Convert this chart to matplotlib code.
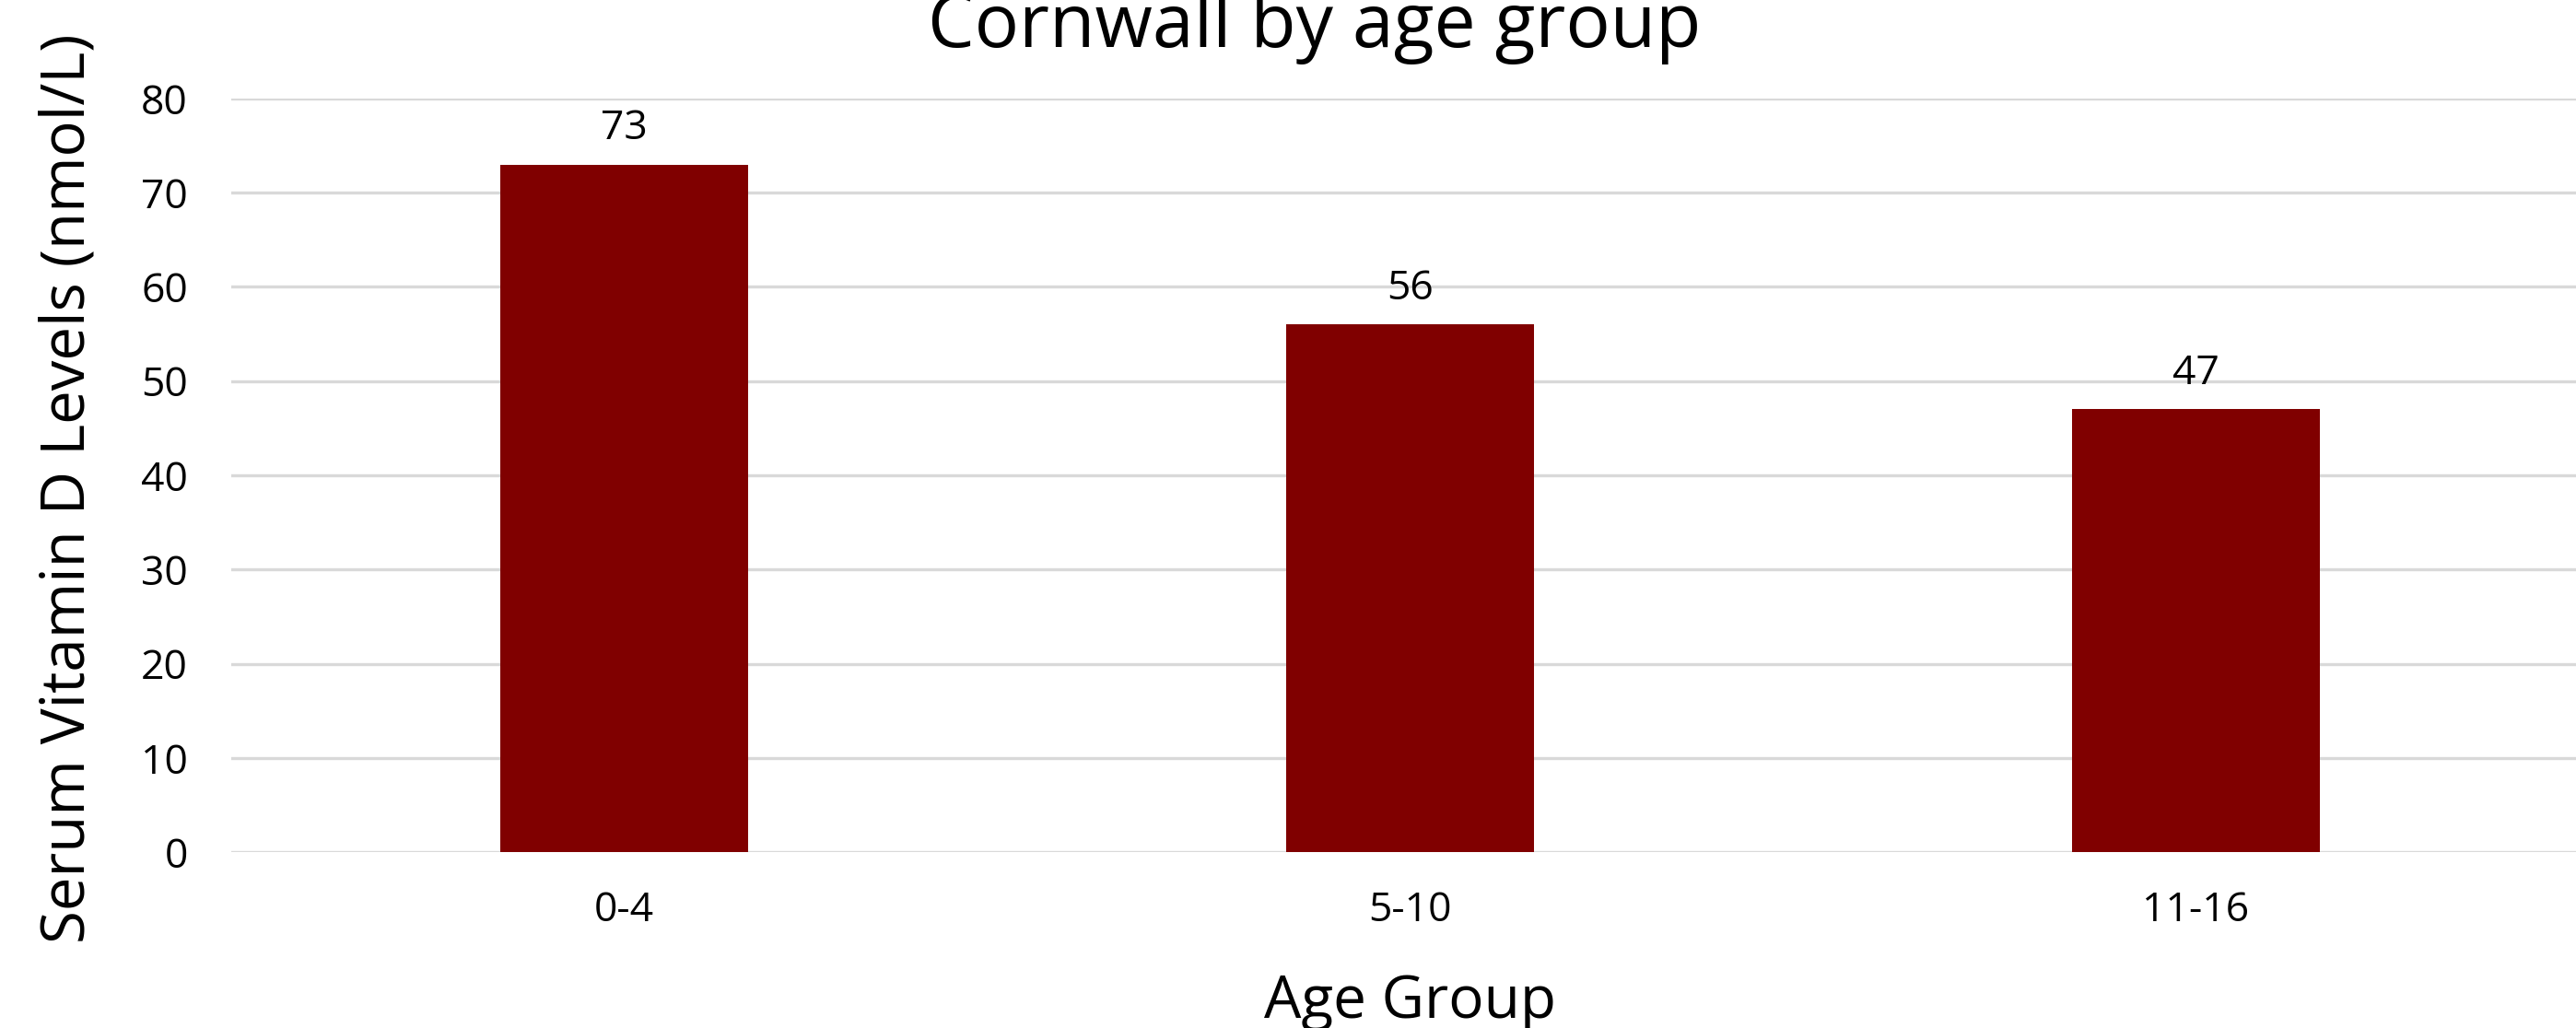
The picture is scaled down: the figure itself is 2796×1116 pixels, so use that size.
import numpy as np
import matplotlib.pyplot as plt

plt.rcParams['font.family'] = ['Open Sans', 'DejaVu Sans']

age_groups = ['0-4', '5-10', '11-16']
vit_d = [73, 56, 47]

fig = plt.figure(figsize=(13.98, 5.58), dpi=200)
ax = fig.add_axes([251/2796, 191/1116, 2559/2796, 818/1116])

x = np.arange(len(age_groups))
bars = ax.bar(x, vit_d, width=0.316, color='#800000', zorder=3)

for b, v in zip(bars, vit_d):
    ax.annotate(str(v), (b.get_x() + b.get_width()/2, v), xytext=(0, 6),
                textcoords='offset points', ha='center', va='bottom', fontsize=16)

ax.set_xlim(-0.5, 2.5)
ax.set_ylim(0, 80)
ax.set_yticks(np.arange(0, 81, 10))
ax.set_xticks(x)
ax.set_xticklabels(age_groups)
ax.grid(axis='y', color='#d9d9d9', linewidth=1.2, zorder=0)
ax.tick_params(axis='both', length=0, labelsize=16)
ax.tick_params(axis='y', pad=17)
ax.tick_params(axis='x', pad=15)
for s in ax.spines.values():
    s.set_visible(False)

ax.set_ylabel('Serum Vitamin D Levels (nmol/L)', fontsize=23.5)
ax.yaxis.set_label_coords(-0.056, 0.483)
ax.set_xlabel('Age Group', fontsize=23, labelpad=16)
ax.set_title('Cornwall by age group', fontsize=29, pad=20, x=0.4595)

fig.savefig('out.png', dpi=200)
